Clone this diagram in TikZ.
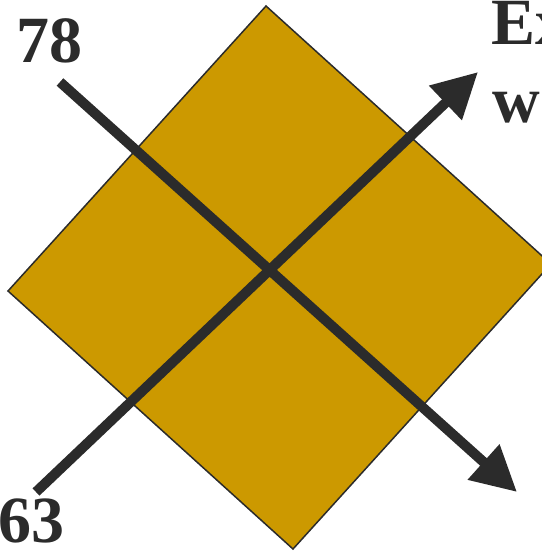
\documentclass[tikz,border=0pt]{standalone}
\usepackage{fontspec}
\setmainfont{Liberation Serif}
\usetikzlibrary{positioning,arrows.meta}
\definecolor{gold}{HTML}{CC9900}
\definecolor{ink}{HTML}{2B2B2B}
\tikzset{
  fatarrow/.style={ink,line width=10pt,-{Triangle[length=45pt,width=45pt]}},
  biglabel/.style={font=\fontsize{66}{70}\selectfont\bfseries,text=ink,inner sep=0pt,anchor=base west},
}
\begin{document}
\begin{tikzpicture}[x=1pt,y=-1pt]
\useasboundingbox (0,0) rectangle (541,551);
% tilted square
\coordinate (left) at (8,291);
\coordinate (top) at (266,6);
\coordinate (right) at (551,264);
\coordinate (bottom) at (293,549);
\draw[ink,line width=1.5pt,fill=gold] (left) -- (top) -- (right) -- (bottom) -- cycle;
% the two crossing arrows
\coordinate (startA) at (60,82);
\coordinate (tipA) at (517,492);
\coordinate (startB) at (36,492);
\coordinate (tipB) at (478,72);
\draw[fatarrow] (startA) -- (tipA);
\draw[fatarrow] (startB) -- (tipB);
% labels
\node[biglabel] (seventyeight) at (16,63) {78};
\node[biglabel] (sixtythree) at (-2,542) {63};
\node[biglabel] (first) at (491,45) {Ex};
\node[biglabel] (second) at (492,122) {w};
\end{tikzpicture}
\end{document}
